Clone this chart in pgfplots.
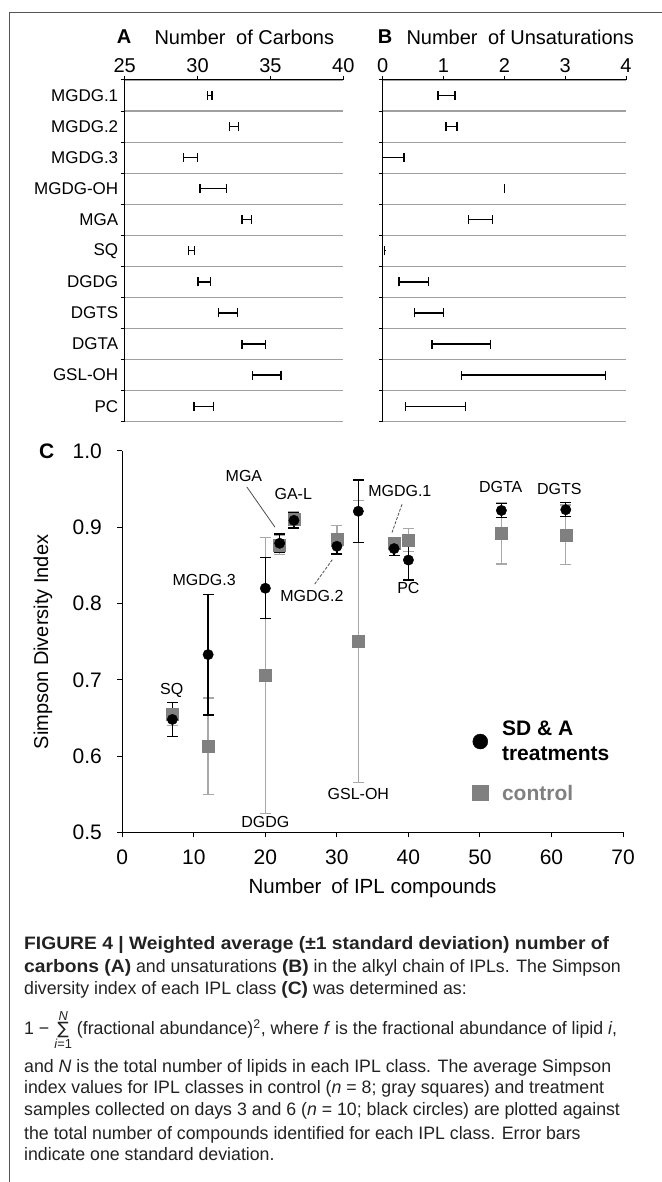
\documentclass[border=0pt]{standalone}
\usepackage{pgfplots}
\pgfplotsset{compat=1.18}
\usepackage{fontspec}
\setmainfont{Liberation Sans}
\newfontfamily\capfont[FakeStretch=0.985, BoldFeatures={FakeStretch=1.07}]{Liberation Sans}
\newfontfamily\dejavu{DejaVu Sans}
\newcommand\fs[1]{\fontsize{#1bp}{#1bp}\selectfont}
\definecolor{ctrl}{HTML}{808080}
\definecolor{ctrlerr}{HTML}{A8A8A8}
\definecolor{sep}{HTML}{A0A0A0}
\definecolor{framec}{HTML}{555555}
\definecolor{captxt}{HTML}{222222}

\pgfplotsset{
  rowaxis/.style={
    scale only axis, height=341.7bp,
    ymin=0.5, ymax=11.5, y dir=reverse,
    axis x line=top, axis y line=left,
    axis line style={-, black, line width=1bp},
    tick align=outside, major tick length=4bp,
    tick style={black, line width=1bp},
    ytick={0.5,1.5,...,11.5}, yticklabels={},
    ymajorgrids=true, grid style={sep, line width=1.2bp},
    x tick label style={font=\fs{20}, yshift=-0.5bp},
    /pgf/number format/assume math mode=true,
    clip=false,
  },
  rowbars/.style={draw=none, mark=none,
    error bars/.cd, x dir=both, x explicit,
    error bar style={draw=black, line width=1.3bp},
    error mark options={rotate=90, draw=black, line width=1.3bp, mark size=4.5bp}},
}

\begin{document}
\begin{tikzpicture}[x=1bp,y=1bp]
\useasboundingbox (0,0) rectangle (662,1182);
\draw[framec, line width=1.3bp] (662,1169.7) -- (9.3,1169.7) -- (9.3,0);

% ---------------- Panel A ----------------
\begin{axis}[rowaxis,
  at={(234.0bp,931.15bp)}, anchor=center, width=218.6bp,
  xmin=25, xmax=40, xtick={25,30,35,40},
  extra y ticks={1,2,3,4,5,6,7,8,9,10,11},
  extra y tick labels={MGDG.1,MGDG.2,MGDG.3,MGDG-OH,MGA,SQ,DGDG,DGTS,DGTA,GSL-OH,PC},
  extra y tick style={major tick length=0pt, grid=none,
    tick label style={font=\fs{17}, xshift=-3bp}},
]
\addplot[rowbars] coordinates {
 (30.82,1) +- (0.16,0)
 (32.49,2) +- (0.32,0)
 (29.50,3) +- (0.48,0)
 (31.07,4) +- (0.91,0)
 (33.38,5) +- (0.34,0)
 (29.58,6) +- (0.20,0)
 (30.45,7) +- (0.43,0)
 (32.08,8) +- (0.64,0)
 (33.86,9) +- (0.82,0)
 (34.75,10) +- (0.98,0)
 (30.43,11) +- (0.68,0)
};
\end{axis}

% ---------------- Panel B ----------------
\begin{axis}[rowaxis,
  at={(504.35bp,931.15bp)}, anchor=center, width=243.3bp,
  xmin=0, xmax=4, xtick={0,1,2,3,4},
]
\addplot[rowbars] coordinates {
 (1.05,1) +- (0.14,0)
 (1.13,2) +- (0.09,0)
 (0.175,3) +- (0.175,0)
 (2.00,4) +- (0.003,0)
 (1.61,5) +- (0.20,0)
 (0.03,6) +- (0.005,0)
 (0.51,7) +- (0.24,0)
 (0.76,8) +- (0.24,0)
 (1.29,9) +- (0.48,0)
 (2.48,10) +- (1.18,0)
 (0.87,11) +- (0.49,0)
};
\end{axis}

\node[font=\fs{20}\bfseries] at (124,1145) {A};
\node[font=\fs{20}, anchor=west] at (151,1145) {Number\hspace{5bp} of Carbons};
\node[font=\fs{20}\bfseries] at (385,1145) {B};
\node[font=\fs{20}, anchor=west] at (403,1145) {Number\hspace{5bp} of Unsaturations};

% ---------------- Panel C ----------------
\begin{axis}[
  at={(122.3bp,349.7bp)}, anchor=south west, scale only axis,
  width=500.7bp, height=381.3bp,
  xmin=0, xmax=70, ymin=0.5, ymax=1.0,
  axis x line=bottom, axis y line=left,
  axis line style={-, black, line width=1bp},
  tick align=outside, major tick length=5bp,
  tick style={black, line width=1bp},
  xtick={0,10,20,30,40,50,60,70},
  ytick={0.5,0.6,0.7,0.8,0.9,1.0},
  tick label style={font=\fs{21}},
  x tick label style={yshift=-9bp},
  y tick label style={xshift=-12bp, /pgf/number format/fixed,
    /pgf/number format/fixed zerofill, /pgf/number format/precision=1},
  /pgf/number format/assume math mode=true,
  clip=false,
]
% control
\addplot[only marks, mark=square*, mark size=6bp, mark options={fill=ctrl, draw=ctrl},
  error bars/.cd, y dir=both, y explicit,
  error bar style={draw=ctrlerr, line width=1.3bp},
  error mark options={rotate=90, draw=ctrlerr, line width=1.3bp, mark size=5.5bp}]
 coordinates {
 (7,0.655) +- (0,0.015)
 (12,0.613) +- (0,0.063)
 (20,0.706) +- (0,0.181)
 (22,0.877) +- (0,0.013)
 (24,0.911) +- (0,0.009)
 (30,0.884) +- (0,0.018)
 (33,0.750) +- (0,0.185)
 (38,0.879) +- (0,0.008)
 (40,0.883) +- (0,0.015)
 (53,0.892) +- (0,0.040)
 (62,0.890) +- (0,0.039)
};
% SD & A treatments
\addplot[only marks, mark=*, mark size=5.2bp, mark options={fill=black, draw=black},
  error bars/.cd, y dir=both, y explicit,
  error bar style={draw=black, line width=1.3bp},
  error mark options={rotate=90, draw=black, line width=1.3bp, mark size=5.5bp}]
 coordinates {
 (7,0.648) +- (0,0.022)
 (12,0.733) +- (0,0.079)
 (20,0.820) +- (0,0.040)
 (22,0.879) +- (0,0.012)
 (24,0.909) +- (0,0.010)
 (30,0.875) +- (0,0.010)
 (33,0.921) +- (0,0.041)
 (38,0.872) +- (0,0.009)
 (40,0.857) +- (0,0.026)
 (53,0.922) +- (0,0.009)
 (62,0.923) +- (0,0.009)
};
% legend markers
\addplot[only marks, mark=*, mark size=7.5bp, mark options={fill=black, draw=black}] coordinates {(50.05,0.619)};
\addplot[only marks, mark=square*, mark size=7.8bp, mark options={fill=ctrl, draw=ctrl}] coordinates {(50.05,0.552)};
\node[anchor=west, align=left, font={\fontsize{21bp}{25bp}\selectfont\bfseries}] at (axis cs:52.6,0.6196) {SD \& A\\treatments};
\node[anchor=west, font={\fs{21}\bfseries}, text=ctrl] at (axis cs:52.6,0.552) {control};

% labels
\begin{scope}[every node/.style={font=\fs{16}}]
\node at (axis cs:6.9,0.686) {SQ};
\node at (axis cs:11.45,0.831) {MGDG.3};
\node at (axis cs:20,0.514) {DGDG};
\node at (axis cs:17.0,0.967) {MGA};
\node at (axis cs:23.9,0.943) {GA-L};
\node at (axis cs:26.5,0.810) {MGDG.2};
\node at (axis cs:33.0,0.550) {GSL-OH};
\node at (axis cs:38.8,0.947) {MGDG.1};
\node at (axis cs:40,0.820) {PC};
\node at (axis cs:52.9,0.953) {DGTA};
\node at (axis cs:61.1,0.950) {DGTS};
\end{scope}
\draw[black!70, line width=0.8bp] (axis cs:17.4,0.953) -- (axis cs:21.35,0.9);
\draw[black!70, line width=0.8bp, dash pattern=on 3bp off 1.5bp] (axis cs:26.9,0.8255) -- (axis cs:29.4,0.858);
\draw[black!70, line width=0.8bp, dash pattern=on 3bp off 1.5bp] (axis cs:39.1,0.930) -- (axis cs:37.7,0.893);
\end{axis}

\node[font=\fs{21}\bfseries] at (46.7,731) {C};
\node[font=\fs{20}, rotate=90] at (43,540) {Simpson Diversity Index};
\node[font=\fs{20.5}] at (372.6,294) {Number\hspace{4bp} of IPL compounds};

% ---------------- Caption ----------------
\begin{scope}[every node/.style={anchor=base west, inner sep=0pt, text=captxt, font={\capfont\fs{18}}}]
\node at (24,232.7) {\textbf{FIGURE 4 | Weighted average (±1 standard deviation) number of}};
\node at (24,209.3) {\textbf{carbons (A)} and unsaturations \textbf{(B)} in the alkyl chain of IPLs. The Simpson};
\node at (24,187.7) {diversity index of each IPL class \textbf{(C)} was determined as:};
\node at (24,147.7) {1 − $\mathop{\hbox{\dejavu\fs{17}∑}}\limits^{\hbox{\capfont\fs{13}\textit{N}}}_{\hbox{\capfont\fs{13}\textit{i}=1}}$ (fractional abundance)\textsuperscript{2}, where \textit{f} is the fractional abundance of lipid \textit{i},};
\node at (24,109.3) {and \textit{N} is the total number of lipids in each IPL class. The average Simpson};
\node at (24,88.3) {index values for IPL classes in control (\textit{n} = 8; gray squares) and treatment};
\node at (24,66) {samples collected on days 3 and 6 (\textit{n} = 10; black circles) are plotted against};
\node at (24,42.7) {the total number of compounds identified for each IPL class. Error bars};
\node at (24,21) {indicate one standard deviation.};
\end{scope}
\end{tikzpicture}
\end{document}
